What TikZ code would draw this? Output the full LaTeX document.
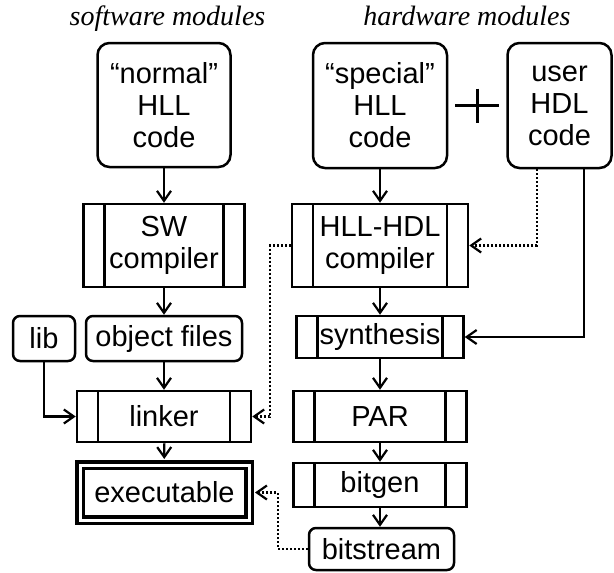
\documentclass[tikz,border=0pt]{standalone}
\usepackage{fontspec}
\setmainfont{Liberation Sans}
\newfontfamily\titlefontfam{Liberation Serif}
\usetikzlibrary{arrows.meta,calc}

\begin{document}
\begin{tikzpicture}[x=1pt,y=-1pt,
  boxfont/.style={font=\fontsize{29pt}{32pt}\selectfont},
  titlefont/.style={font=\fontsize{28pt}{30pt}\titlefontfam\itshape},
  codebox/.style={draw, line width=2.5pt, rounded corners=12pt, align=center, inner sep=0pt, boxfont},
  filebox/.style={draw, line width=2.5pt, rounded corners=7pt, align=center, inner sep=0pt, boxfont},
  procbox/.style={draw, line width=2.5pt, align=center, inner sep=0pt, boxfont,
    path picture={\draw [line width=2.2pt] ([xshift=21pt]path picture bounding box.north west) -- ([xshift=21pt]path picture bounding box.south west)
      ([xshift=-21pt]path picture bounding box.north east) -- ([xshift=-21pt]path picture bounding box.south east);}},
  flow/.style={line width=2.2pt, -{Straight Barb[length=10pt,width=14pt]}},
  dotflow/.style={flow, dash pattern=on 2pt off 2pt}]
\useasboundingbox (0,0) rectangle (614,573);
% column titles
\node [titlefont, anchor=base] (swtitle) at (167.5,25) {software modules};
\node [titlefont, anchor=base] (hwtitle) at (467,25) {hardware modules};
% sources
\node [codebox, minimum width=133, minimum height=124] (normal) at (164,105) {“normal”\\HLL\\code};
\node [codebox, minimum width=134, minimum height=125] (special) at (380,105.5) {“special”\\HLL\\code};
\node [codebox, minimum width=104, minimum height=125] (user) at (559.5,105.5) {user\\HDL\\code};
\coordinate (plus) at ($(special.east)!.5!(user.west)$);
\draw [line width=3pt]  (plus) +(-22,0) -- +(22,0)  (plus) +(0,-17) -- +(0,17) ;
% software flow
\node [procbox, minimum width=161, minimum height=83] (swcomp) at (164,245.5) {SW\\compiler};
\node [filebox, minimum width=156, minimum height=45] (objfiles) at (164,338.5) {object files};
\node [filebox, minimum width=62, minimum height=45] (lib) at (44,338.5) {lib};
\node [procbox, minimum width=174, minimum height=51] (linker) at (164,416.5) {linker};
\node [draw, double, line width=3.5pt, double distance=3pt, outer sep=6pt, inner sep=0pt, boxfont,
       minimum width=169, minimum height=55] (exec) at (164.5,492.5) {executable};
% hardware flow
\node [procbox, minimum width=176, minimum height=83] (hllhdl) at (380,245.5) {HLL-HDL\\compiler};
\node [procbox, minimum width=167, minimum height=42] (synth) at (380,337) {synthesis};
\node [procbox, minimum width=173, minimum height=51] (par) at (380,416.5) {PAR};
\node [procbox, minimum width=173, minimum height=44] (bitgen) at (380,485) {bitgen};
\node [filebox, minimum width=145, minimum height=42] (bitstream) at (381.5,549) {bitstream};
% connectors
\draw [flow]  (normal) -- (swcomp) ;
\draw [flow]  (swcomp) -- (objfiles) ;
\draw [flow]  (objfiles) -- (linker) ;
\draw [flow]  (lib.south) |- (linker.west) ;
\draw [flow]  (linker) -- (exec) ;
\draw [flow]  (special) -- (hllhdl) ;
\draw [flow]  (hllhdl) -- (synth) ;
\draw [flow]  (synth) -- (par) ;
\draw [flow]  (par) -- (bitgen) ;
\draw [flow]  (bitgen.south) -- (bitgen.south |- bitstream.north) ;
\draw [flow]  ([xshift=24.5pt]user.south) |- (synth.east) ;
\draw [dotflow]  ([xshift=-22.5pt]user.south) |- (hllhdl.east) ;
\draw [dotflow]  (hllhdl.west) -- ++(-21,0) |- (linker.east) ;
\draw [dotflow]  (bitstream.west) -- ++(-30,0) |- (exec.east) ;
\end{tikzpicture}
\end{document}
